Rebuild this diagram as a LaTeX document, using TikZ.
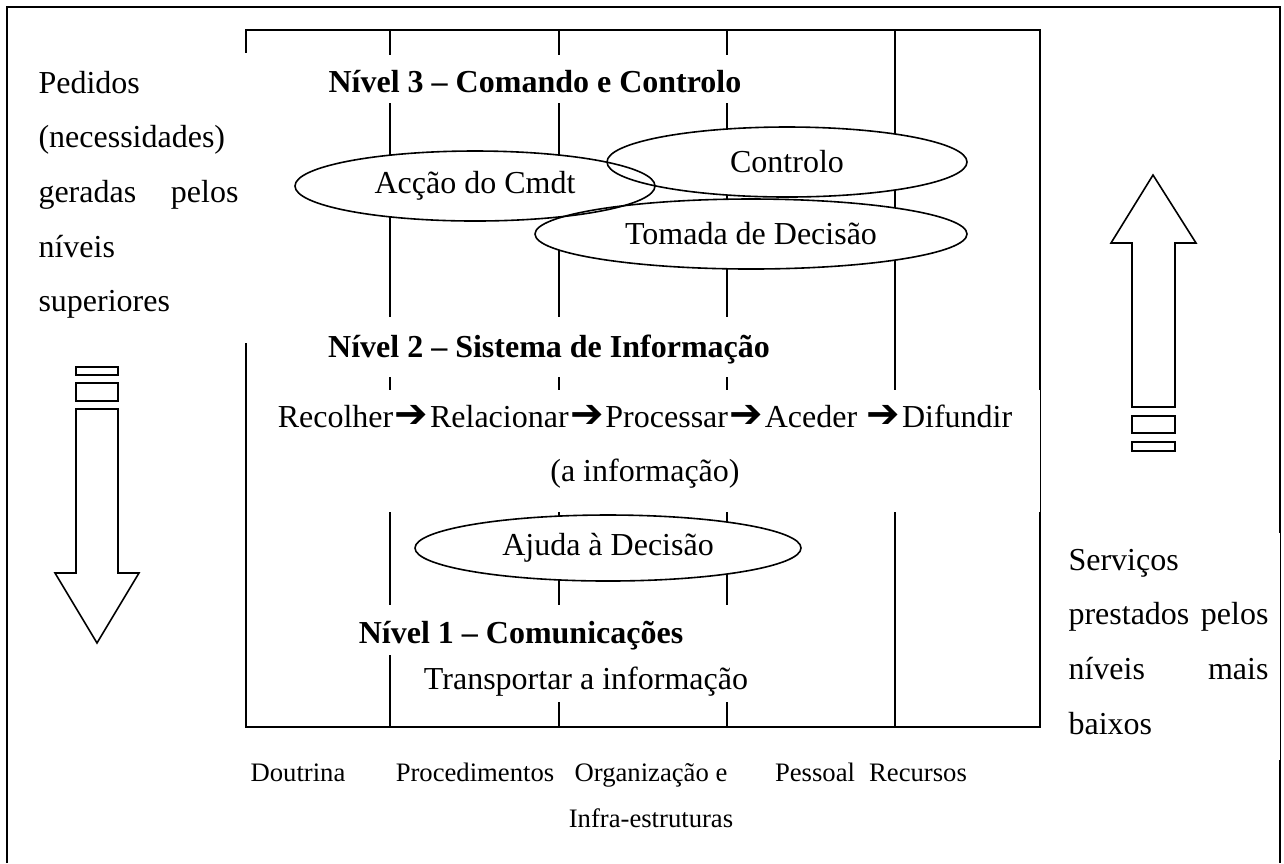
\documentclass[tikz,border=0pt]{standalone}
\usepackage{fontspec}
\setmainfont{Liberation Serif}
\newfontfamily\dingfont{DejaVu Sans}
\usetikzlibrary{shapes.geometric}
\newlength{\pxl}
\setlength{\pxl}{0.375pt}
\newcommand{\nxt}{\makebox[13.8pt]{\dingfont\fontsize{15}{15}\selectfont ➔}}

\begin{document}
\begin{tikzpicture}[x=0.375pt, y=-0.375pt,
    frameline/.style={line width=0.75pt},
    mask/.style={fill=white},
    body/.style={font=\fontsize{12}{20.5}\selectfont, inner sep=0pt},
    level/.style={font=\fontsize{12}{20.5}\selectfont\bfseries, inner sep=0pt, anchor=base},
    sidetext/.style={body, text width=200\pxl, align=left, anchor=base west},
    oval/.style={ellipse, fill=white, inner sep=1pt, font=\fontsize{12}{14}\selectfont},
    pillar/.style={font=\fontsize{10}{17.6}\selectfont, inner sep=0pt, anchor=base},
    blockarrow/.style={draw, line width=0.6pt, fill=white, line join=miter}
]
\useasboundingbox (0,0) rectangle (1284,863);

% Outer frame and the box of pillars
\draw[frameline] (7,863) -- (7,7) -- (1280,7) -- (1280,863);
\draw[frameline] (246,30) rectangle (1040,727);
\foreach \cx in {390,559,727,895}
  \draw[frameline] (\cx,30) -- (\cx,727);

% White patches behind the texts
\fill[mask] (20,53) rectangle (250,343);
\fill[mask] (322,55) rectangle (748,103);
\fill[mask] (322,317) rectangle (776,377);
\fill[mask] (262,390) rectangle (1040,512);
\fill[mask] (340,605) rectangle (735,655);
\fill[mask] (415,655) rectangle (752,702);
\fill[mask] (1055,533) rectangle (1280,760);

% Requests from above
\node[sidetext] (pedidos) at (38,93) {Pedidos\\(necessidades)\\geradas\hfill pelos\\níveis\\superiores};

% Levels
\node[level] (nivel_3) at (535,92) {Nível 3 – Comando e Controlo};
\node[level] (nivel_2) at (549,357) {Nível 2 – Sistema de Informação};
\node[body, text width=760\pxl, align=flush center, anchor=base] (fluxo) at (645,427) {Recolher\nxt Relacionar\nxt Processar\nxt Aceder \nxt Difundir\\(a informação)};
\node[level] (nivel_1) at (521,643) {Nível 1 – Comunicações};
\node[body, anchor=base] (transporte) at (586,689) {Transportar a informação};

% Ovals
\node[oval, minimum width=360\pxl, minimum height=70\pxl] (accao) at (475,186) {Acção do Cmdt};
\node[oval, minimum width=360\pxl, minimum height=70\pxl] (controlo) at (787,162) {Controlo};
\node[oval, minimum width=432\pxl, minimum height=70\pxl] (tomada) at (751,234) {Tomada de Decisão};
\node[oval, minimum width=386\pxl, minimum height=66\pxl] (ajuda) at (608,548) {Ajuda à Decisão};
% outlines after all the fills
\draw[line width=0.6pt] (accao.center) ellipse [x radius=180\pxl, y radius=35\pxl];
\draw[line width=0.6pt] (controlo.center) ellipse [x radius=180\pxl, y radius=35\pxl];
\draw[line width=0.6pt] (tomada.center) ellipse [x radius=216\pxl, y radius=35\pxl];
\draw[line width=0.6pt] (ajuda.center) ellipse [x radius=193\pxl, y radius=33\pxl];

% Pillars
\node[pillar] (doutrina) at (298,781) {Doutrina};
\node[pillar] (procedimentos) at (475,781) {Procedimentos};
\node[pillar, text width=170\pxl, align=flush center] (organizacao) at (651,781) {Organização e\\Infra-estruturas};
\node[pillar] (pessoal) at (815,781) {Pessoal};
\node[pillar] (recursos) at (918,781) {Recursos};

% Services from below
\node[sidetext] (servicos) at (1068,570) {Serviços\\prestados\hfill pelos\\níveis\hfill mais\\baixos};

% Down arrow
\draw[blockarrow] (76,367) rectangle (118,375);
\draw[blockarrow] (76,383) rectangle (118,401);
\draw[blockarrow] (76,409) -- (118,409) -- (118,573) -- (139,573) -- (97,643) -- (55,573) -- (76,573) -- cycle;

% Up arrow
\draw[blockarrow] (1132,407) -- (1175,407) -- (1175,243) -- (1196,243) -- (1153,175) -- (1111,243) -- (1132,243) -- cycle;
\draw[blockarrow] (1132,416) rectangle (1175,433);
\draw[blockarrow] (1132,442) rectangle (1175,451);

\end{tikzpicture}
\end{document}
